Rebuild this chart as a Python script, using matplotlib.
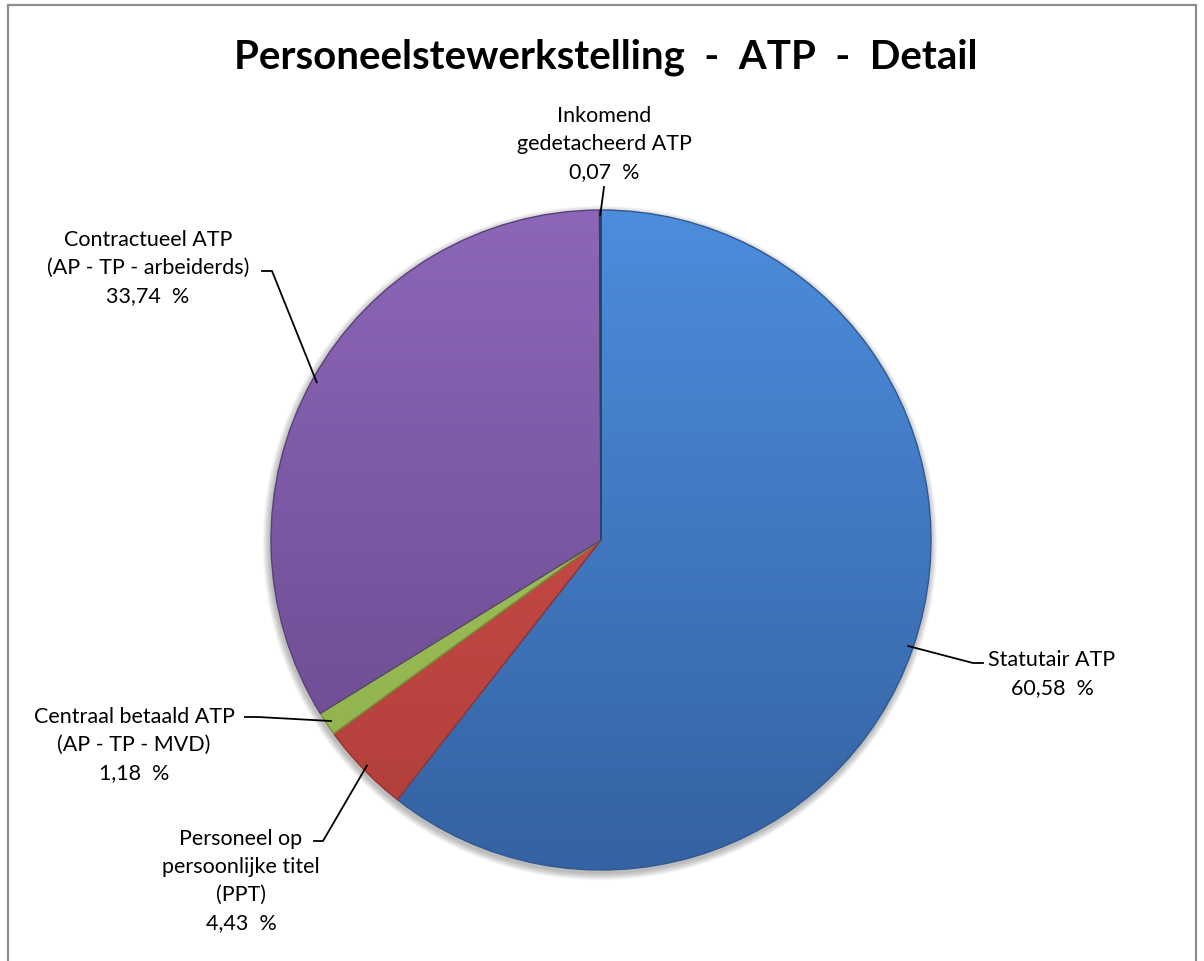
import matplotlib.pyplot as plt
import numpy as np
from matplotlib.colors import to_rgb
from matplotlib.patches import Circle, Rectangle

plt.rcParams['font.family'] = ['Lato', 'DejaVu Sans']

# slices, clockwise from 12 o'clock
labels = ['Statutair ATP',
          'Personeel op\npersoonlijke titel\n(PPT)',
          'Centraal betaald ATP\n(AP - TP - MVD)',
          'Contractueel ATP\n(AP - TP - arbeiderds)',
          'Inkomend\ngedetacheerd ATP']
values = [60.58, 4.43, 1.18, 33.74, 0.07]
top_colors = ['#4c8ddc', '#d4534d', '#a3c95f', '#8c67b8', '#2e4f7a']
bottom_colors = ['#3562a2', '#b03e3a', '#8fb04d', '#67488c', '#2e4f7a']
edge_colors = ['#2f5891', '#963431', '#76933c', '#5a3f7a', '#24405f']

W, H = 1204, 962
fig = plt.figure(figsize=(W / 100, H / 100), dpi=100)
ax = fig.add_axes([0, 0, 1, 1])

cx, cy, r = 601, H - 541, 330

# soft shadow under the pie
for k in range(8, 0, -1):
    ax.add_patch(Circle((cx - 1, cy - 3), r + k * 0.9, color='black',
                        alpha=0.035, lw=0, zorder=1))

wedges, _ = ax.pie(values, startangle=90, counterclock=False,
                   center=(cx, cy), radius=r,
                   wedgeprops=dict(linewidth=0))

for w, c1, c2, ec in zip(wedges, top_colors, bottom_colors, edge_colors):
    w.set_facecolor('none')
    w.set_zorder(3)
    t = np.linspace(0, 1, 256)[:, None, None]
    grad = (1 - t) * np.array(to_rgb(c1)) + t * np.array(to_rgb(c2))
    im = ax.imshow(grad, extent=(cx - r, cx + r, cy - r, cy + r),
                   origin='upper', aspect='auto', zorder=2,
                   interpolation='bilinear')
    im.set_clip_path(w)
    w.set_edgecolor(ec)
    w.set_linewidth(1.0)

# labels with leader lines; elbow = where the line meets the text
fs = 15.5
lab_pos = [(1052, 674, 'center'), (241, 881, 'center'), (134, 745, 'center'),
           (148, 268, 'center'), (604, 144, 'center')]
elbows = [[(983, 664), (973, 664)],
          [(314, 842), (323, 842)],
          [(245, 718), (258, 718)],
          [(262, 272), (272, 272)],
          [(604, 188)]]

cum = np.cumsum([0] + values)
for i, lab in enumerate(labels):
    mid = 90 - (cum[i] + cum[i + 1]) / 2 / 100 * 360
    a = np.deg2rad(mid)
    px, py = cx + 0.985 * r * np.cos(a), cy + 0.985 * r * np.sin(a)
    pts = [(x, H - y) for x, y in elbows[i]] + [(px, py)]
    xs, ys = zip(*pts)
    ax.plot(xs, ys, color='black', lw=1.3, zorder=4)
    txt = lab + '\n' + f'{values[i]:.2f}'.replace('.', ',') + '  %'
    x, y, ha = lab_pos[i]
    ax.text(x, H - y, txt, ha=ha, va='center', fontsize=fs,
            linespacing=1.5, color='black', zorder=5)

ax.text(606, H - 57, 'Personeelstewerkstelling  -  ATP  -  Detail',
        ha='center', va='center', fontsize=29, fontweight='bold')

# chart frame
ax.add_patch(Rectangle((8, -20), 1188, H - 6 + 20, fill=False,
                       edgecolor='#8c8c8c', lw=1.6, zorder=6))

ax.set_xlim(0, W)
ax.set_ylim(0, H)
ax.set_aspect('equal')
ax.axis('off')

fig.savefig('out.png', dpi=100)
